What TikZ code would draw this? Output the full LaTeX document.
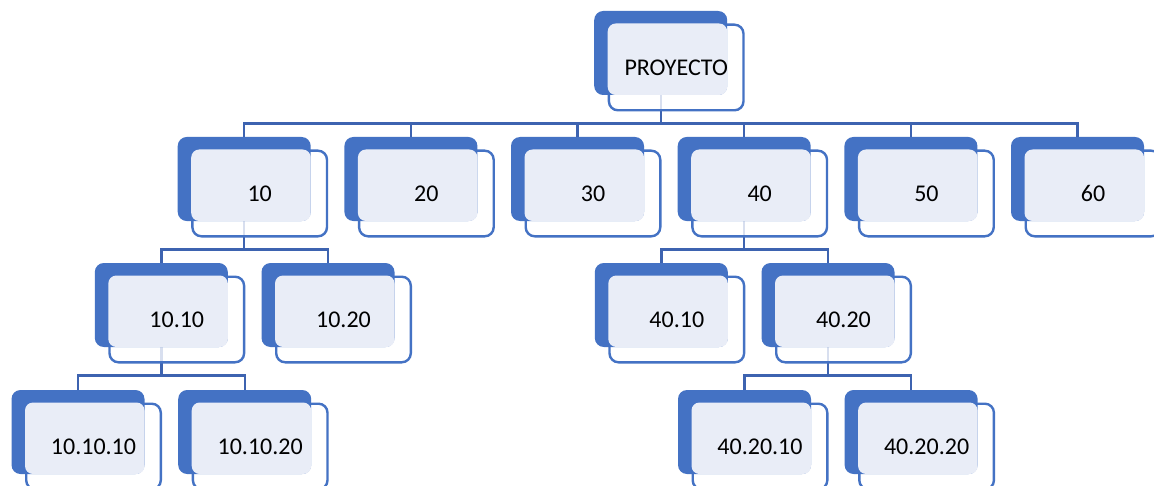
\documentclass[tikz,border=0pt]{standalone}
\usepackage{fontspec}
\setmainfont{Carlito}
\definecolor{cardblue}{HTML}{4472C4}
\definecolor{cardlight}{HTML}{E9EDF7}
\definecolor{linkblue}{HTML}{3D63B0}
\pgfdeclarelayer{paper}
\pgfdeclarelayer{links}
\pgfsetlayers{paper,links,main}
\tikzset{
  backcard/.style={rectangle, rounded corners=4.5pt, fill=cardblue,
    minimum width=66.5pt, minimum height=42pt, inner sep=0pt, outer sep=0pt},
  frontcard/.style={rectangle, rounded corners=4.5pt, draw=cardblue, line width=1.2pt,
    fill=white, fill opacity=0.8, minimum width=67.3pt, minimum height=42.8pt, inner sep=0pt},
  lightcard/.style={fill=cardlight, rounded corners=4pt},
  cardtext/.style={font=\fontsize{12}{14}\selectfont, text=black, inner sep=0pt},
  link/.style={draw=linkblue, line width=1.2pt},
}
% one org-chart card: name, left edge, top edge, label
\newcommand\orgcard[4]{%
  \begin{scope}[shift={(#2,#3)}]
    \node[frontcard] (#1) at (82,56.5) {};
    \node[backcard] (#1-b) at (66.5,42) {};
    \fill[lightcard] (#1.north west) rectangle (#1-b.south east);
    \node[cardtext] (#1-t) at (#1.center) {#4};
  \end{scope}}
% elbow connector from a parent card down to a child card
\newcommand\orglink[2]{%
  \draw[link] (#1-b.south) -- ++(0,28.5) -| (#2-b.north);}
\begin{document}
\begin{tikzpicture}[x=0.5pt, y=-0.5pt]
  \useasboundingbox (0,0) rectangle (1154,486);
  \clip (0,0) rectangle (1154,486);
  \begin{pgfonlayer}{paper}
    \fill[white] (0,0) rectangle (1154,486);
  \end{pgfonlayer}

  % root
  \orgcard{p}{594.2}{11}{PROYECTO}
  % first level
  \orgcard{a}{177.7}{137}{10}
  \orgcard{b}{344.4}{137}{20}
  \orgcard{c}{511.0}{137}{30}
  \orgcard{d}{677.7}{137}{40}
  \orgcard{e}{844.4}{137}{50}
  \orgcard{f}{1011.0}{137}{60}
  % second level
  \orgcard{a1}{94.8}{263}{10.10}
  \orgcard{a2}{261.5}{263}{10.20}
  \orgcard{d1}{594.8}{263}{40.10}
  \orgcard{d2}{761.5}{263}{40.20}
  % third level
  \orgcard{a11}{11.5}{390}{10.10.10}
  \orgcard{a12}{178.2}{390}{10.10.20}
  \orgcard{d21}{678.0}{390}{40.20.10}
  \orgcard{d22}{844.6}{390}{40.20.20}

  \begin{pgfonlayer}{links}
    \foreach \c in {a,b,c,d,e,f} {\orglink{p}{\c}}
    \orglink{a}{a1}\orglink{a}{a2}
    \orglink{d}{d1}\orglink{d}{d2}
    \orglink{a1}{a11}\orglink{a1}{a12}
    \orglink{d2}{d21}\orglink{d2}{d22}
  \end{pgfonlayer}
\end{tikzpicture}
\end{document}
